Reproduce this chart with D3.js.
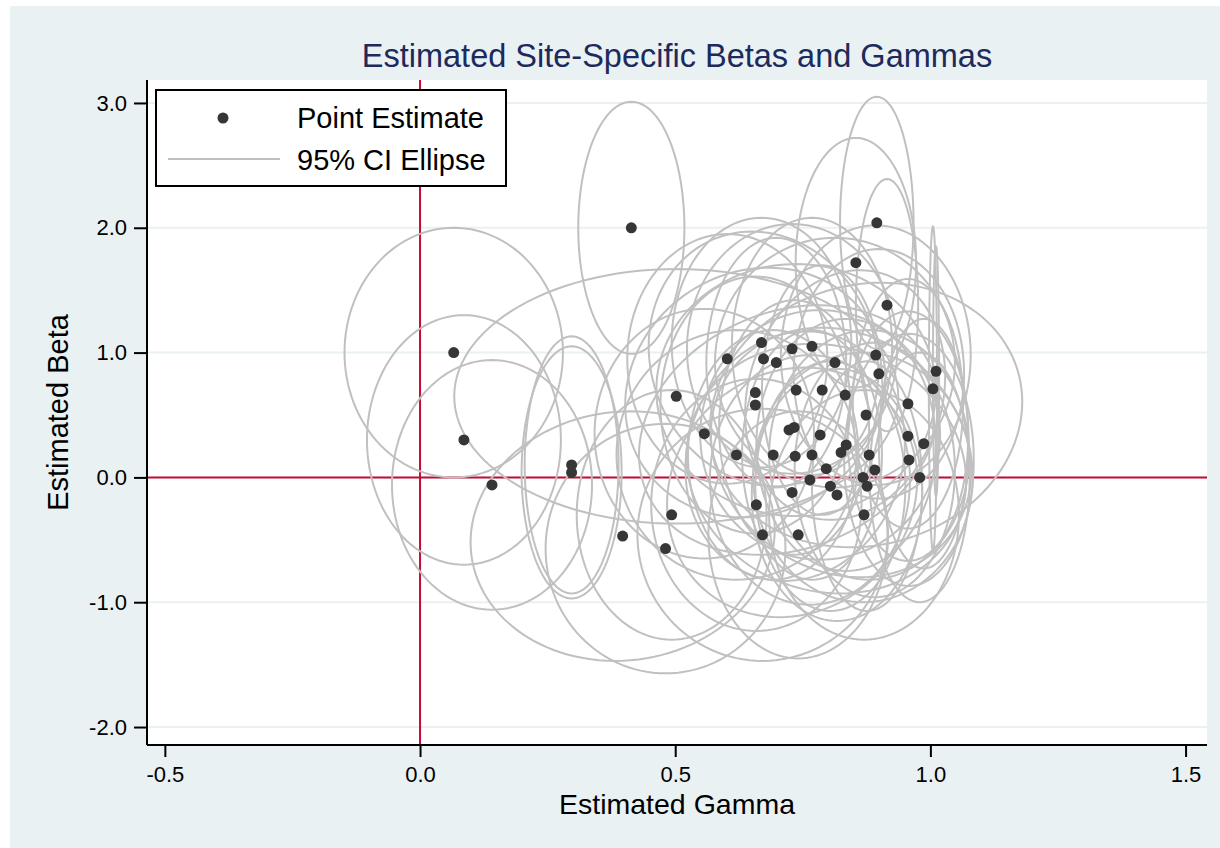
<!DOCTYPE html>
<html>
<head>
<meta charset="utf-8">
<script src="https://cdn.jsdelivr.net/npm/d3@7/dist/d3.min.js"></script>
<style>
  html, body { margin: 0; padding: 0; background: #ffffff; }
  svg { display: block; font-family: 'Liberation Sans', Arial, sans-serif; }
</style>
</head>
<body>
<div id="chart"></div>
<script>
// point estimates (one per site)
const gammas = [
  0.066, 0.086, 0.141, 0.297, 0.297, 0.414, 0.397, 0.481, 0.493, 0.502,
  0.557, 0.602, 0.657, 0.657, 0.669, 0.673, 0.698, 0.729, 0.768, 0.737,
  0.788, 0.833, 0.813, 0.893, 0.899, 0.854, 0.895, 0.915, 1.011, 1.005,
  0.874, 0.956, 0.723, 0.733, 0.784, 0.956, 0.987, 0.835, 0.825, 0.620,
  0.692, 0.735, 0.768, 0.880, 0.958, 0.796, 0.891, 0.764, 0.868, 0.979,
  0.804, 0.876, 0.729, 0.817, 0.659, 0.870, 0.671, 0.741
];
const betas = [
  1.00, 0.30, -0.06, 0.10, 0.04, 2.00, -0.47, -0.57, -0.30, 0.65,
  0.35, 0.95, 0.68, 0.58, 1.08, 0.95, 0.92, 1.03, 1.05, 0.70,
  0.70, 0.66, 0.92, 0.98, 0.83, 1.72, 2.04, 1.38, 0.85, 0.71,
  0.50, 0.59, 0.38, 0.40, 0.34, 0.33, 0.27, 0.26, 0.20, 0.18,
  0.18, 0.17, 0.18, 0.18, 0.14, 0.07, 0.06, -0.02, 0.00, 0.00,
  -0.07, -0.07, -0.12, -0.14, -0.22, -0.30, -0.46, -0.46
];
// 95% CI ellipse half-widths (gamma, beta) and gamma/beta correlation
const halfGamma = [
  0.214, 0.190, 0.196, 0.092, 0.098, 0.104, 0.298, 0.235, 0.186, 0.435,
  0.215, 0.196, 0.255, 0.186, 0.176, 0.225, 0.137, 0.206, 0.157, 0.274,
  0.118, 0.196, 0.235, 0.186, 0.167, 0.118, 0.072, 0.061, 0.006, 0.008,
  0.306, 0.108, 0.294, 0.147, 0.235, 0.118, 0.088, 0.176, 0.255, 0.235,
  0.167, 0.215, 0.137, 0.196, 0.127, 0.274, 0.157, 0.196, 0.215, 0.098,
  0.147, 0.108, 0.245, 0.167, 0.206, 0.186, 0.245, 0.176
];
const halfBeta = [
  1.00, 1.00, 1.00, 1.03, 1.01, 1.01, 1.00, 1.00, 1.00, 1.02,
  1.00, 1.00, 1.00, 1.03, 1.00, 1.02, 1.00, 1.00, 1.03, 1.01,
  1.00, 1.00, 1.00, 1.04, 1.00, 1.00, 1.01, 1.01, 1.00, 1.30,
  1.06, 1.00, 1.00, 1.02, 1.00, 1.00, 1.00, 1.01, 1.00, 1.00,
  1.00, 1.00, 1.00, 1.00, 1.01, 1.00, 1.02, 1.00, 1.00, 1.00,
  1.00, 1.00, 1.00, 1.01, 1.01, 1.00, 1.01, 0.99
];
const corr = [
  0.00, 0.00, 0.00, 0.00, 0.00, 0.00, 0.05, 0.00, 0.00, 0.00,
  0.00, 0.00, 0.10, 0.00, 0.00, -0.10, 0.00, 0.00, 0.00, 0.00,
  0.00, 0.15, 0.00, 0.00, 0.00, 0.00, 0.00, 0.00, 0.00, 0.00,
  0.10, 0.00, 0.20, 0.00, 0.00, 0.00, 0.00, 0.00, -0.15, 0.00,
  0.00, 0.10, 0.00, 0.00, 0.00, -0.10, 0.00, 0.00, 0.00, 0.00,
  0.00, 0.00, 0.10, 0.00, 0.00, 0.00, 0.00, 0.00
];

const xTicks = [-0.5, 0.0, 0.5, 1.0, 1.5];
const yTicks = [-2.0, -1.0, 0.0, 1.0, 2.0, 3.0];
const legendLabels = ['Point Estimate', '95% CI Ellipse'];

const width = 1220;
const height = 848;
const margin = { top: 80, right: 13, bottom: 103, left: 147 };
const innerW = width - margin.left - margin.right;
const innerH = height - margin.top - margin.bottom;

const bg = '#eaf1f3';
const red = '#c40a35';
const grey = '#c0c0c0';
const dot = '#363636';
const fmt = d => d.toFixed(1);

const svg = d3.select('#chart').append('svg')
  .attr('width', width)
  .attr('height', height);

svg.append('rect')
  .attr('x', 10).attr('y', 6)
  .attr('width', width - 10).attr('height', height - 6)
  .attr('fill', bg);

const x = d3.scaleLinear().domain([-0.535, 1.542]).range([0, innerW]);
const y = d3.scaleLinear().domain([-2.144, 3.184]).range([innerH, 0]);

const g = svg.append('g')
  .attr('transform', 'translate(' + margin.left + ',' + margin.top + ')');

g.append('rect')
  .attr('width', innerW).attr('height', innerH)
  .attr('fill', '#ffffff');

// gridlines
g.selectAll('.grid')
  .data(yTicks)
  .enter()
  .append('line')
  .attr('class', 'grid')
  .attr('x1', 0).attr('x2', innerW)
  .attr('y1', d => y(d)).attr('y2', d => y(d))
  .attr('stroke', bg)
  .attr('stroke-width', 2);

// reference lines at zero
g.append('line')
  .attr('x1', x(0)).attr('x2', x(0))
  .attr('y1', 0).attr('y2', innerH)
  .attr('stroke', red).attr('stroke-width', 2);
g.append('line')
  .attr('x1', 0).attr('x2', innerW)
  .attr('y1', y(0)).attr('y2', y(0))
  .attr('stroke', red).attr('stroke-width', 2);

// ellipses
const sites = gammas.map((gm, i) => ({
  gamma: gm, beta: betas[i], a: halfGamma[i], b: halfBeta[i], rho: corr[i]
}));

const ellipseLine = d3.line()
  .x(p => x(p[0]))
  .y(p => y(p[1]))
  .curve(d3.curveLinearClosed);

const ellipsePoints = (s) => {
  const pts = [];
  const n = 120;
  for (let k = 0; k < n; k++) {
    const t = 2 * Math.PI * k / n;
    pts.push([
      s.gamma + s.a * Math.cos(t),
      s.beta + s.b * (s.rho * Math.cos(t) + Math.sqrt(1 - s.rho * s.rho) * Math.sin(t))
    ]);
  }
  return pts;
};

g.selectAll('.ellipse')
  .data(sites)
  .enter()
  .append('path')
  .attr('class', 'ellipse')
  .attr('d', d => ellipseLine(ellipsePoints(d)))
  .attr('fill', 'none')
  .attr('stroke', grey)
  .attr('stroke-width', 2);

g.selectAll('.pt')
  .data(sites)
  .enter()
  .append('circle')
  .attr('class', 'pt')
  .attr('cx', d => x(d.gamma))
  .attr('cy', d => y(d.beta))
  .attr('r', 5.5)
  .attr('fill', dot);

// axes
const xAxis = g.append('g')
  .attr('transform', 'translate(0,' + innerH + ')')
  .call(d3.axisBottom(x).tickValues(xTicks).tickFormat(fmt).tickSize(12).tickPadding(9));
xAxis.select('.domain').attr('stroke', '#000').attr('stroke-width', 2).attr('d', 'M0,0H' + innerW);
xAxis.selectAll('.tick line').attr('stroke', '#000').attr('stroke-width', 2);
xAxis.selectAll('text').attr('font-size', 22).attr('fill', '#000')
  .attr('font-family', "'Liberation Sans', Arial, sans-serif");

const yAxis = g.append('g')
  .call(d3.axisLeft(y).tickValues(yTicks).tickFormat(fmt).tickSize(13).tickPadding(7));
yAxis.select('.domain').attr('stroke', '#000').attr('stroke-width', 2).attr('d', 'M0,0V' + innerH);
yAxis.selectAll('.tick line').attr('stroke', '#000').attr('stroke-width', 2);
yAxis.selectAll('text').attr('font-size', 22).attr('fill', '#000')
  .attr('font-family', "'Liberation Sans', Arial, sans-serif");

// titles
svg.append('text')
  .attr('x', margin.left + innerW / 2)
  .attr('y', 67)
  .attr('text-anchor', 'middle')
  .attr('font-size', 32.5)
  .attr('fill', '#1c2a5c')
  .text('Estimated Site-Specific Betas and Gammas');

svg.append('text')
  .attr('x', margin.left + innerW / 2)
  .attr('y', 814)
  .attr('text-anchor', 'middle')
  .attr('font-size', 28.5)
  .attr('fill', '#000')
  .text('Estimated Gamma');

svg.append('text')
  .attr('transform', 'translate(68,' + (margin.top + innerH / 2) + ') rotate(-90)')
  .attr('text-anchor', 'middle')
  .attr('font-size', 29)
  .attr('fill', '#000')
  .text('Estimated Beta');

// legend
const legend = svg.append('g').attr('transform', 'translate(156,90)');
legend.append('rect')
  .attr('width', 350).attr('height', 96)
  .attr('fill', '#fff')
  .attr('stroke', '#000')
  .attr('stroke-width', 2);
legend.append('circle')
  .attr('cx', 67).attr('cy', 28).attr('r', 5.5).attr('fill', dot);
legend.append('line')
  .attr('x1', 12).attr('x2', 124)
  .attr('y1', 69).attr('y2', 69)
  .attr('stroke', grey).attr('stroke-width', 2);
legend.selectAll('.lab')
  .data(legendLabels)
  .enter()
  .append('text')
  .attr('class', 'lab')
  .attr('x', 141)
  .attr('y', (d, i) => 38 + i * 42)
  .attr('font-size', 29)
  .attr('fill', '#000')
  .text(d => d);
</script>
</body>
</html>
